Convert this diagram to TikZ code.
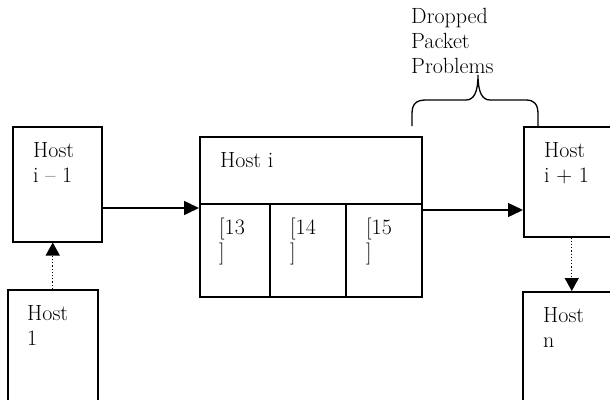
\documentclass[tikz,border=0pt]{standalone}
\usetikzlibrary{arrows.meta}
\tikzset{
  box/.style={draw, line width=1.5pt, inner sep=0pt, anchor=north west},
  txt/.style={anchor=base west, align=left, inner sep=0pt, font=\fontsize{22}{25}\selectfont},
  conn/.style={line width=1.5pt, -{Triangle[length=15pt,width=14pt]}},
  dots/.style={line width=1.2pt, dotted, -{Triangle[length=13pt,width=14pt]}}
}
\begin{document}
\begin{tikzpicture}[x=1pt,y=-1pt]
  \useasboundingbox (0,0) rectangle (610,399);
  \clip (0,0) rectangle (610,399);
  % hosts
  \node[box, minimum width=89pt, minimum height=115pt] (prev) at (12,126) {};
  \node[box, minimum width=90pt, minimum height=115pt] (first) at (7,289) {};
  \node[box, minimum width=96pt, minimum height=110pt] (next) at (523,126) {};
  \node[box, minimum width=98pt, minimum height=115pt] (last) at (522,291) {};
  \node[box, minimum width=222pt, minimum height=67pt] (hosti) at (199,136) {};
  \foreach \n/\x/\w in {13/199/70,14/269/76,15/345/76}
    \node[box, minimum width=\w pt, minimum height=93pt] (c\n) at (\x,203) {};
  % labels (base = last line)
  \node[txt] (prevtxt) at (33,182) {Host\\i -- 1};
  \node[txt] (firsttxt) at (27,345) {Host\\1};
  \node[txt] (nexttxt) at (544,182) {Host\\i + 1};
  \node[txt] (lasttxt) at (543,347) {Host\\n};
  \node[txt] (hositxt) at (220,167) {Host i};
  \foreach \n/\x in {13/219,14/290,15/366}
    \node[txt] (t\n) at (\x,259) {[\n\\]};
  \node[txt] (drop) at (411,73) {Dropped\\Packet\\Problems};
  % brace
  \draw[line width=1.3pt] (412,126) -- (412,114) .. controls (412,104) and (416,100) .. (426,100)
    -- (466,100) .. controls (474,100) and (478,92) .. (478,75)
    .. controls (478,92) and (482,100) .. (490,100) -- (526,100)
    .. controls (534,100) and (538,104) .. (538,114) -- (538,126);
  % arrows
  \draw[conn] (prev.east |- 0,208) -- (c13.west |- 0,208);
  \draw[conn] (c15.east |- 0,210) -- (next.west |- 0,210);
  \draw[dots] (first.north) -- (first.north |- prev.south);
  \draw[dots] (next.south) -- (next.south |- last.north);
\end{tikzpicture}
\end{document}
